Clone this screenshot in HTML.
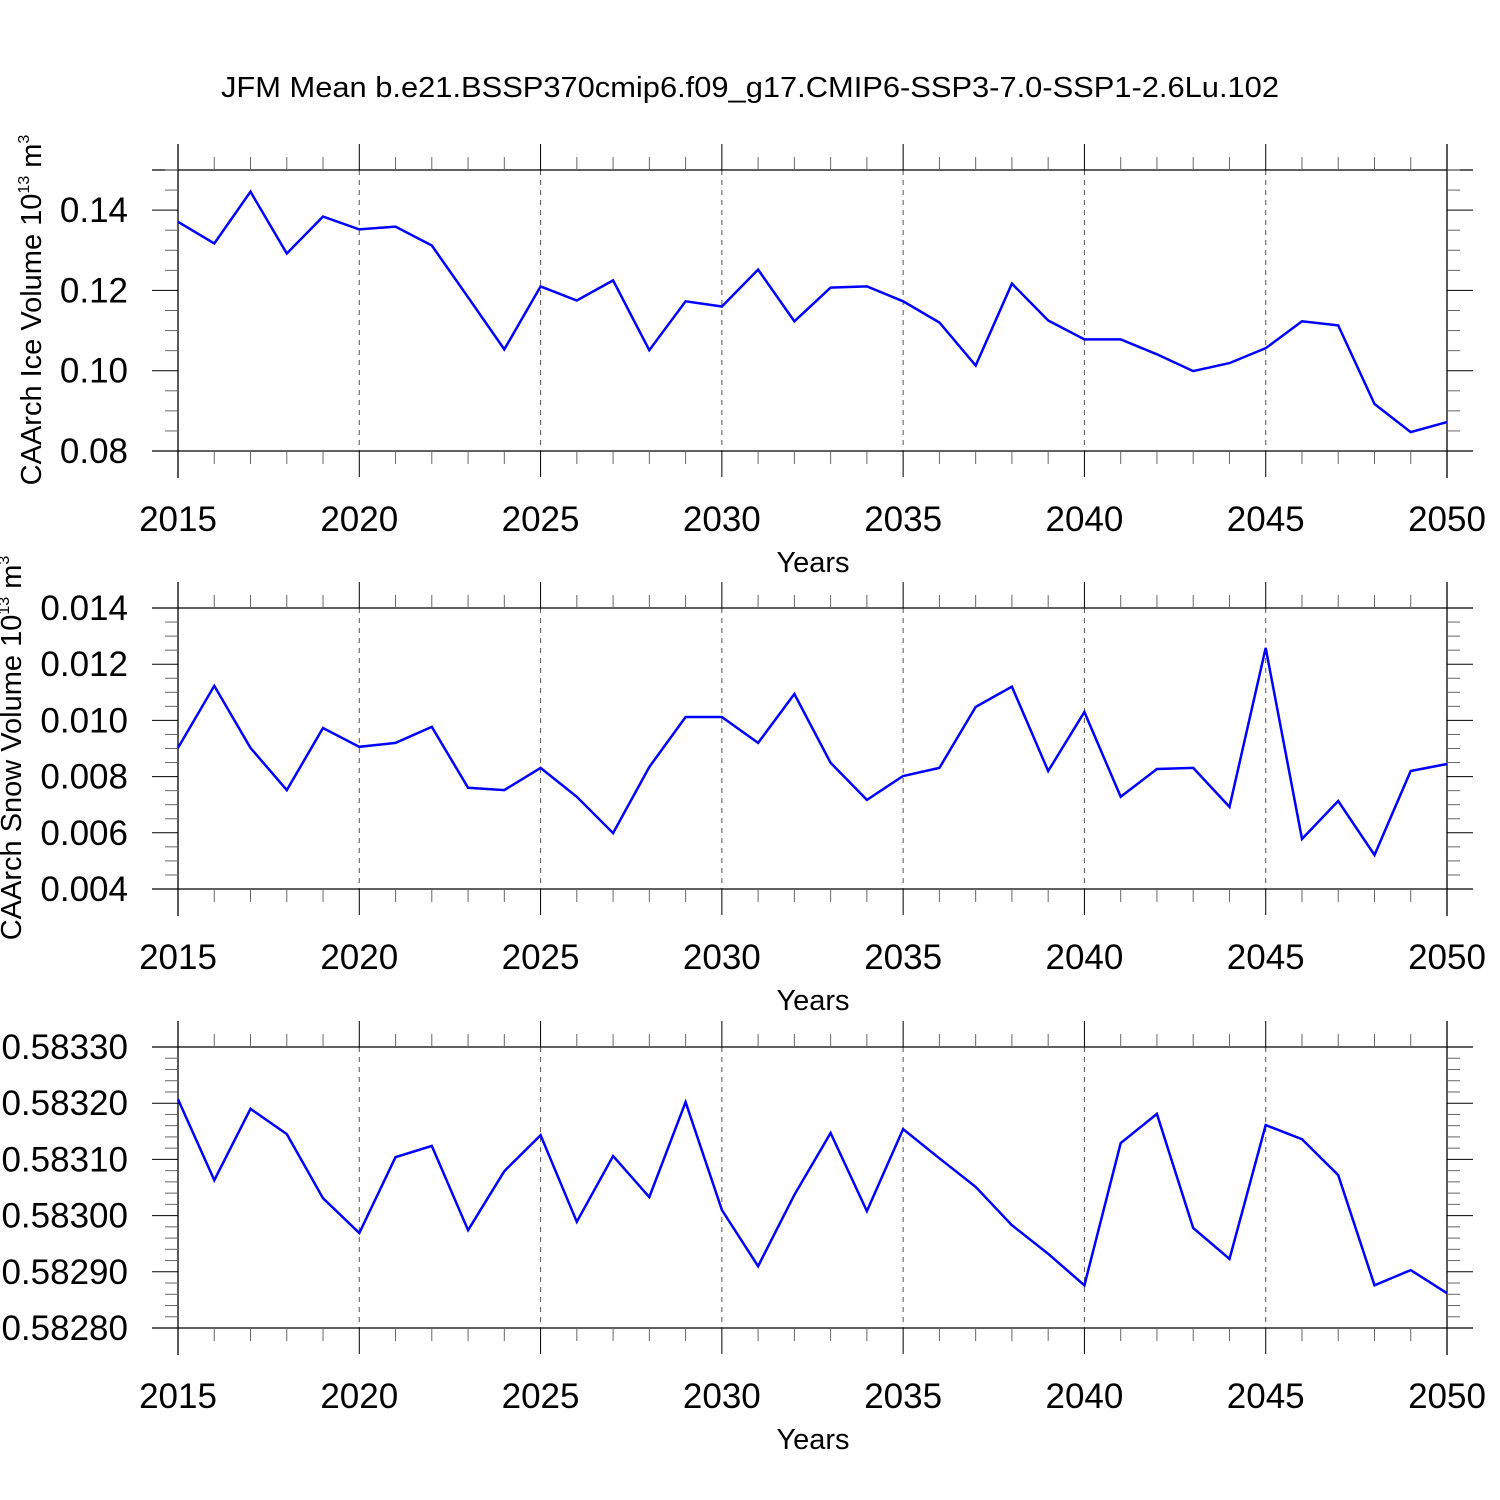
<!DOCTYPE html>
<html><head><meta charset="utf-8"><style>
body{margin:0;background:#fff}
svg{display:block;font-family:"Liberation Sans",sans-serif}
</style></head><body>
<svg id="chart" width="1500" height="1500" viewBox="0 0 1500 1500" xmlns="http://www.w3.org/2000/svg">
<rect width="1500" height="1500" fill="#fff"/>
<text x="750" y="97" font-size="29" text-anchor="middle" textLength="1058" lengthAdjust="spacingAndGlyphs">JFM Mean b.e21.BSSP370cmip6.f09_g17.CMIP6-SSP3-7.0-SSP1-2.6Lu.102</text>
</svg>
<script>
const years = [];
for (let y = 2015; y <= 2050; y++) years.push(y);
const iceVolume = [0.1371,0.1317,0.1446,0.1292,0.1384,0.1352,0.1359,0.1312,0.1183,0.1053,0.1210,0.1175,0.1225,0.1051,0.1173,0.1160,0.1252,0.1123,0.1207,0.1210,0.1173,0.1120,0.1013,0.1217,0.1125,0.1078,0.1078,0.1041,0.0999,0.1019,0.1056,0.1123,0.1113,0.0917,0.0847,0.0872];
const snowVolume = [0.00902,0.01123,0.00902,0.00752,0.00973,0.00906,0.0092,0.00977,0.0076,0.00752,0.00831,0.00728,0.00599,0.00834,0.01012,0.01012,0.0092,0.01094,0.00849,0.00717,0.00802,0.00831,0.01048,0.0112,0.0082,0.0103,0.00728,0.00827,0.00831,0.00692,0.01258,0.00578,0.00713,0.00521,0.0082,0.00845];
const thirdSeries = [0.583207,0.583063,0.583190,0.583145,0.583031,0.582969,0.583104,0.583124,0.582974,0.583079,0.583143,0.582989,0.583106,0.583033,0.583202,0.583010,0.582910,0.583037,0.583147,0.583008,0.583154,0.583102,0.583051,0.582983,0.582932,0.582876,0.583129,0.583181,0.582978,0.582923,0.583161,0.583136,0.583072,0.582876,0.582903,0.582862];
const xTickYears = [2015,2020,2025,2030,2035,2040,2045,2050];
const ice_ticks = ["0.08","0.10","0.12","0.14"];
const snow_ticks = ["0.004","0.006","0.008","0.010","0.012","0.014"];
const third_ticks = ["0.58280","0.58290","0.58300","0.58310","0.58320","0.58330"];

const NS = "http://www.w3.org/2000/svg";
const svg = document.getElementById('chart');
const X0 = 178, X1 = 1447;
function xs(yr){ return X0 + (yr - 2015) / 35 * (X1 - X0); }
function mk(tag, attrs, parent){
  const e = document.createElementNS(NS, tag);
  for (const k in attrs) e.setAttribute(k, attrs[k]);
  (parent || svg).appendChild(e);
  return e;
}
const panels = [
  {name:'ice', top:170, bot:451, ymin:0.08, ymax:0.15, major:0.02, minor:0.005, ticks:ice_ticks, data:iceVolume, title:'CAArch Ice Volume 10', tx:41, ty:310},
  {name:'snow', top:608, bot:889, ymin:0.004, ymax:0.014, major:0.002, minor:0.0005, ticks:snow_ticks, data:snowVolume, title:'CAArch Snow Volume 10', tx:21, ty:748},
  {name:'third', top:1047, bot:1328, ymin:0.5828, ymax:0.5833, major:0.0001, minor:0.00002, ticks:third_ticks, data:thirdSeries, title:null}
];
panels.forEach(p => {
  const g = mk('g', {});
  
  
  const ys = v => p.bot - (v - p.ymin) / (p.ymax - p.ymin) * (p.bot - p.top);
  xTickYears.slice(1, -1).forEach(yr => {
    const l = mk('line', {x1:xs(yr), x2:xs(yr), y1:p.top, y2:p.bot, stroke:'#555', 'stroke-width':1, 'stroke-dasharray':'5,5'}, g);
    
    
  });
  mk('line', {x1:152, x2:1473, y1:p.top, y2:p.top, stroke:'#000', 'stroke-width':1.3}, g);
  mk('line', {x1:152, x2:1473, y1:p.bot, y2:p.bot, stroke:'#000', 'stroke-width':1.3}, g);
  mk('line', {x1:X0, x2:X0, y1:p.top-26, y2:p.bot+27, stroke:'#000', 'stroke-width':1.3}, g);
  mk('line', {x1:X1, x2:X1, y1:p.top-26, y2:p.bot+27, stroke:'#000', 'stroke-width':1.3}, g);
  years.forEach(yr => {
    const maj = (yr % 5 === 0);
    const len = maj ? 26 : 13;
    mk('line', {x1:xs(yr), x2:xs(yr), y1:p.top-len, y2:p.top, stroke:maj?'#000':'#666', 'stroke-width':1}, g);
    mk('line', {x1:xs(yr), x2:xs(yr), y1:p.bot, y2:p.bot+len, stroke:maj?'#000':'#666', 'stroke-width':1}, g);
  });
  const nMinor = Math.round((p.ymax - p.ymin) / p.minor);
  const per = Math.round(p.major / p.minor);
  for (let i = 0; i <= nMinor; i++) {
    const y = p.bot - i / nMinor * (p.bot - p.top);
    const maj = (i % per === 0);
    const len = maj ? 26 : 13;
    mk('line', {x1:X0-len, x2:X0, y1:y, y2:y, stroke:maj?'#000':'#666', 'stroke-width':1}, g);
    mk('line', {x1:X1, x2:X1+len, y1:y, y2:y, stroke:maj?'#000':'#666', 'stroke-width':1}, g);
  }
  p.ticks.forEach(t => {
    const v = parseFloat(t);
    const tx = mk('text', {x:128, y:ys(v)+12, 'font-size':35, 'text-anchor':'end'}, g);
    tx.textContent = t;
    
    
  });
  xTickYears.forEach(yr => {
    const tx = mk('text', {x:xs(yr), y:p.bot+80, 'font-size':35, 'text-anchor':'middle'}, g);
    tx.textContent = yr;
    
    
  });
  const xt = mk('text', {x:813, y:p.bot+121, 'font-size':29, 'text-anchor':'middle'}, g);
  xt.textContent = 'Years';
  
  
  if (p.title) {
    const t = mk('text', {x:0, y:0, 'font-size':29, 'text-anchor':'middle', transform:`translate(${p.tx},${p.ty}) rotate(-90)`}, g);
    
    
    t.appendChild(document.createTextNode(p.title));
    const s1 = mk('tspan', {'font-size':16, dy:-12}, t); s1.textContent = '13';
    const s2 = mk('tspan', {dy:12}, t); s2.textContent = ' m';
    const s3 = mk('tspan', {'font-size':16, dy:-12}, t); s3.textContent = '3';
  }
  const pts = p.data.map((v, i) => xs(years[i]).toFixed(1) + ',' + ys(v).toFixed(1)).join(' ');
  const line = mk('polyline', {points:pts, fill:'none', stroke:'#0000ff', 'stroke-width':2.5, 'stroke-linejoin':'miter'}, g);
  
  
});
</script>
</body></html>
